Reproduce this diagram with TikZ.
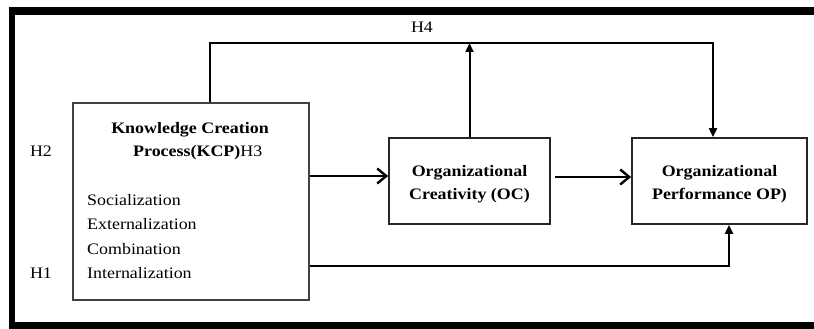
\documentclass[tikz,border=0pt]{standalone}
\usepackage{fontspec}
\setmainfont{Liberation Serif}[FakeStretch=1.12]
\usetikzlibrary{arrows.meta,calc}
\begin{document}
\begin{tikzpicture}[x=1pt,y=-1pt,
  box/.style={draw=black!85, line width=1.8pt, inner sep=0pt},
  conn/.style={draw=black, line width=2pt},
  barb/.style={-{Straight Barb[length=9pt,width=15pt,line width=2.4pt]}},
  tri/.style={-{Triangle[length=9pt,width=8pt]}},
  lbl/.style={font=\fontsize{16}{23}\selectfont, inner sep=0pt},
  blbl/.style={font=\fontsize{16}{23}\selectfont\bfseries, inner sep=0pt, align=center}]
\useasboundingbox (0,0) rectangle (814,329);
% frame
\fill[black] (9,7) rectangle (814,15);
\fill[black] (9,7) rectangle (15,329);
\fill[black] (9,322) rectangle (814,329);
% boxes
\node[box, draw=black!75, line width=1.5pt, minimum width=236pt, minimum height=197pt, anchor=north west] (kcp) at (72,102) {};
\node[box, minimum width=161pt, minimum height=86pt] (oc) at (469.5,181) {};
\node[box, minimum width=175pt, minimum height=86pt] (op) at (719.5,181) {};
\node[blbl] (octext) at (469.5,184) {Organizational\\Creativity (OC)};
\node[blbl] (optext) at (719.5,184) {Organizational\\Performance OP)};
% KCP texts
\node[lbl, font=\fontsize{16}{23}\selectfont\bfseries, anchor=base] (t1) at (190,133) {Knowledge Creation};
\node[lbl, anchor=base west] (t2) at (133,156) {\textbf{Process(KCP)}H3};
\node[lbl, anchor=base west] (s1) at (87,205) {Socialization};
\node[lbl, anchor=base west] (s2) at (87,229.5) {Externalization};
\node[lbl, anchor=base west] (s3) at (87,254) {Combination};
\node[lbl, anchor=base west] (s4) at (87,278.5) {Internalization};
% hypothesis labels
\node[lbl, anchor=base] (h2) at (41,156) {H2};
\node[lbl, anchor=base] (h1) at (41,278.5) {H1};
\node[lbl, anchor=base] (h4) at (422,33) {H4};
% helper coordinates
\coordinate (a1) at ($(oc.west)+(0,-5)$);
\coordinate (a2) at ($(op.west)+(0,-4)$);
\coordinate (h4c) at (210,43);
\coordinate (h4r) at (713,43);
\coordinate (h1r) at (729,266);
% connectors
\draw[conn, barb] (kcp.east |- a1) -- (a1);
\draw[conn, barb, shorten <=4pt] (oc.east |- a2) -- (a2);
\draw[conn, tri] (kcp.north -| h4c) -- (h4c) -- (h4r) -- (op.north -| h4r);
\draw[conn, tri] (oc.north) -- (oc.north |- h4c);
\draw[conn, tri] (kcp.east |- h1r) -- (h1r) -- (op.south -| h1r);
\end{tikzpicture}
\end{document}
